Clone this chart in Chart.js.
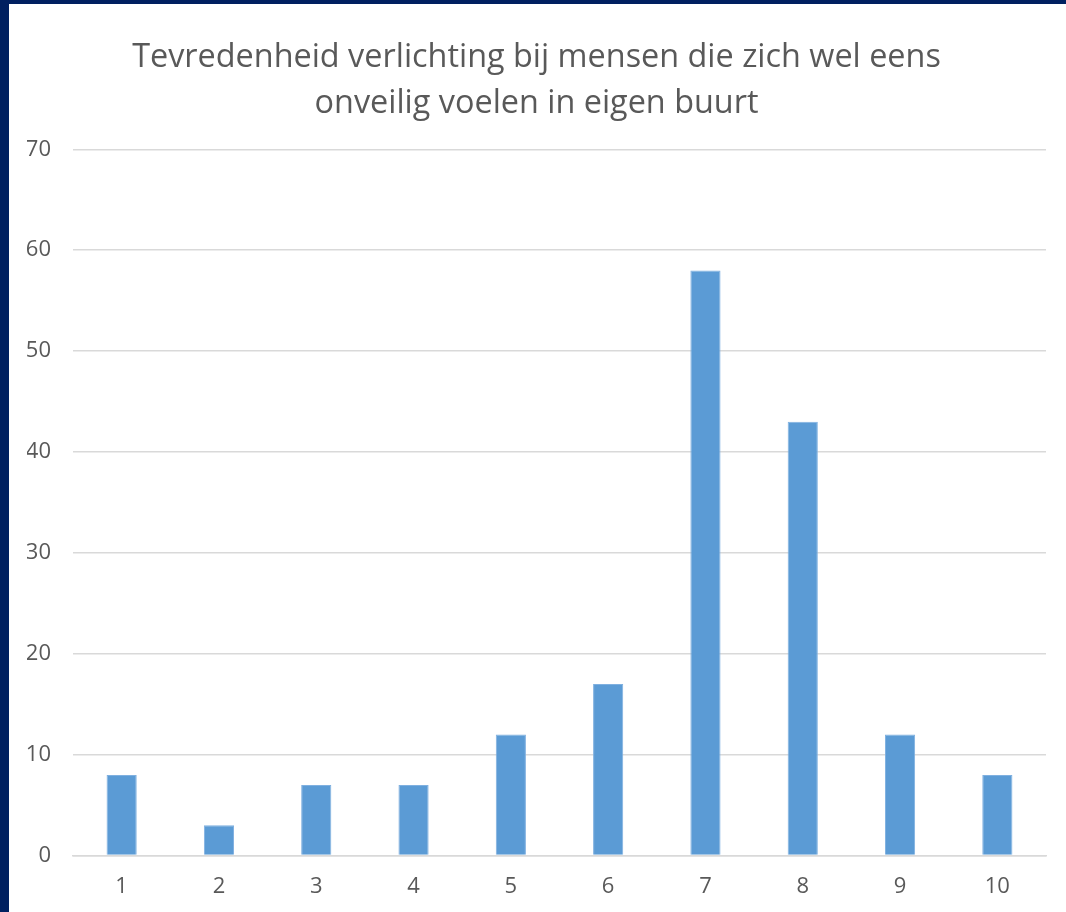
<!DOCTYPE html>
<html>
<head>
<meta charset="utf-8">
<script src="https://cdn.jsdelivr.net/npm/chart.js@4"></script>
<style>
    html, body { margin: 0; padding: 0; }
    body { background: #002060; width: 1066px; height: 912px; overflow: hidden; }
    #wrap { position: absolute; left: 9px; top: 4px; width: 1057px; height: 908px; background: #fff; }
</style>
</head>
<body>
<div id="wrap"><canvas id="satisfactionChart"></canvas></div>
<script>
const categories = ['1', '2', '3', '4', '5', '6', '7', '8', '9', '10'];
const counts = [8, 3, 7, 7, 12, 17, 58, 43, 12, 8];
const yTicks = [0, 10, 20, 30, 40, 50, 60, 70];
const chartTitle = ['Tevredenheid verlichting bij mensen die zich wel eens', 'onveilig voelen in eigen buurt'];

document.addEventListener('DOMContentLoaded', function () {
    const ctx = document.getElementById('satisfactionChart').getContext('2d');
    const font = "'Open Sans', sans-serif";

    new Chart(ctx, {
        type: 'bar',
        data: {
            labels: categories,
            datasets: [{
                label: 'Aantal',
                data: counts,
                backgroundColor: '#5b9bd5',
                borderColor: '#7fb0e0',
                borderWidth: 1,
                categoryPercentage: 1,
                barPercentage: 0.31,
            }],
        },
        options: {
            responsive: true,
            maintainAspectRatio: false,
            animation: false,
            layout: {
                padding: { left: 18, right: 20, top: 18, bottom: 2 },
            },
            scales: {
                x: {
                    grid: { display: false },
                    border: { display: true, color: '#d9d9d9', width: 1.5 },
                    ticks: {
                        color: '#595959',
                        padding: 10,
                        font: { size: 22, family: font },
                    },
                },
                y: {
                    min: 0,
                    max: 70,
                    afterBuildTicks: function (axis) {
                        axis.ticks = yTicks.map(v => ({ value: v }));
                    },
                    afterFit: function (axis) {
                        axis.width = 46; // keep plot left edge where the original has it
                    },
                    grid: { color: '#d9d9d9', lineWidth: 1.5, drawTicks: false },
                    border: { display: false },
                    ticks: {
                        color: '#595959',
                        padding: 22,
                        font: { size: 22, family: font },
                    },
                },
            },
            plugins: {
                legend: { display: false },
                tooltip: { enabled: false },
                title: {
                    display: true,
                    text: chartTitle,
                    color: '#595959',
                    padding: { top: 12, bottom: 22 },
                    font: { size: 32.4, weight: 'normal', family: font, lineHeight: 1.44 },
                },
            },
        },
    });
});
</script>
</body>
</html>
